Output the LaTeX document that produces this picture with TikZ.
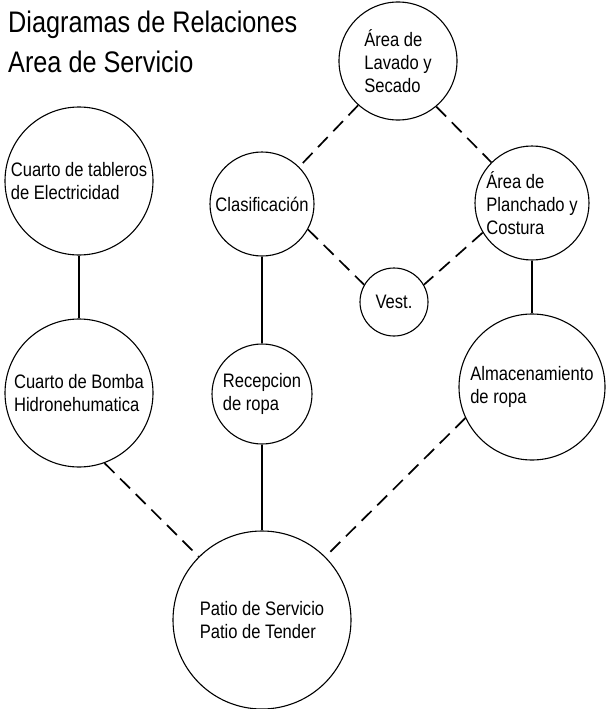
\documentclass[tikz,border=0pt]{standalone}
\usepackage{fontspec}
\setmainfont{Liberation Sans}[FakeStretch=0.85]
\usetikzlibrary{positioning}
\tikzset{
  area/.style={draw, circle, line width=1.1pt, inner sep=-20pt, align=left,
               font=\fontsize{19.5}{23}\selectfont},
  lazo/.style={line width=1.6pt},
  lazod/.style={line width=1.7pt, dash pattern=on 14pt off 8pt},
  ttl/.style={anchor=base west, inner sep=0pt, font=\fontsize{29.7}{35}\selectfont},
}
\begin{document}
\begin{tikzpicture}[x=1pt,y=-1pt]
  \useasboundingbox (0,0) rectangle (605,709);
  \node[ttl] (titulo) at (8,33) {Diagramas de Relaciones};
  \node[ttl] (subtitulo) at (8,72) {Area de Servicio};
  \node[area, minimum size=118pt] (lavado) at (398,61) {Área de\\Lavado y\\Secado};
  \node[area, minimum size=148pt] (tableros) at (79,181) {Cuarto de tableros\\de Electricidad};
  \node[area, minimum size=104pt] (clasif) at (262,204) {Clasificación};
  \node[area, minimum size=114pt] (planch) at (532,203) {Área de\\Planchado y\\Costura};
  \node[area, minimum size=68pt] (vest) at (394,302) {Vest.};
  \node[area, minimum size=148pt] (bomba) at (79,393) {Cuarto de Bomba\\Hidronehumatica};
  \node[area, minimum size=100pt] (recep) at (262,394) {Recepcion\\de ropa};
  \node[area, minimum size=146pt] (almac) at (532,387) {Almacenamiento\\de ropa};
  \node[area, minimum size=178pt] (patio) at (262,620) {Patio de Servicio\\Patio de Tender};
  \draw[lazo] (tableros) -- (bomba);
  \draw[lazo] (clasif) -- (recep);
  \draw[lazo] (recep) -- (patio);
  \draw[lazo] (planch) -- (almac);
  \draw[lazod] (lavado.228) -- (clasif.45);
  \draw[lazod] (lavado.-50) -- (planch.135);
  \draw[lazod] (clasif.-29) -- (vest.150);
  \draw[lazod] (planch.211) -- (vest.30);
  \draw[lazod] (bomba.-70) -- (patio.135);
  \draw[lazod] (almac.205) -- (patio.45);
\end{tikzpicture}
\end{document}
